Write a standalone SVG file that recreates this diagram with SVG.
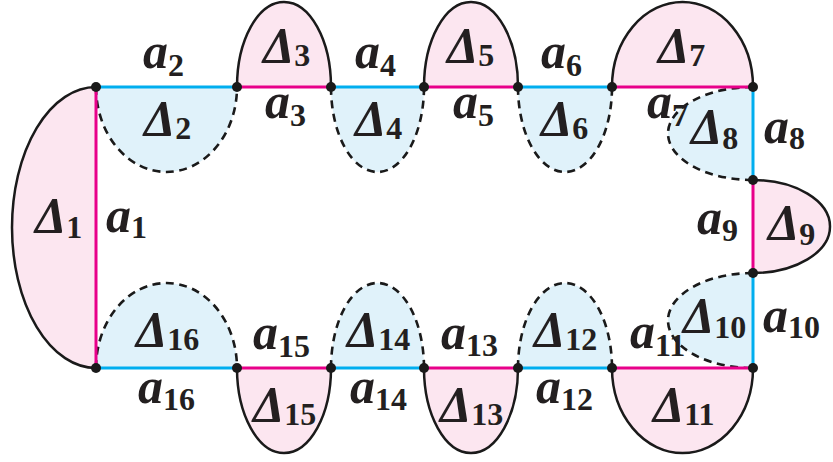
<svg xmlns="http://www.w3.org/2000/svg" width="833" height="462" viewBox="0 0 833 462">
<style>
.pk{fill:#FCE6F0;stroke:#1a1a1a;stroke-width:2.5}
.bl{fill:#E0F2FA;stroke:#1a1a1a;stroke-width:2.6;stroke-dasharray:8 5.5}
.m{stroke:#E8008A;stroke-width:3;fill:none}
.c{stroke:#00AEEF;stroke-width:3;fill:none}
.d{fill:#1a1a1a}
text{font-family:"Liberation Serif",serif;font-weight:bold;font-style:italic;font-size:50px;fill:#231f20}
.s{font-style:normal;font-size:32px}
</style>
<g id="regions">
<g id="D1"><path class="pk" d="M96,87 A84,140.5 0 0,0 96,368"/></g>
<g id="D2"><path class="bl" d="M96,87 A70.5,85 0 0,0 237,87"/></g>
<g id="D3"><path class="pk" d="M237,87 A47,85 0 0,1 331,87"/></g>
<g id="D4"><path class="bl" d="M331,87 A46.5,85 0 0,0 424,87"/></g>
<g id="D5"><path class="pk" d="M424,87 A47,85 0 0,1 518,87"/></g>
<g id="D6"><path class="bl" d="M518,87 A47,85 0 0,0 612,87"/></g>
<g id="D7"><path class="pk" d="M612,87 A70.5,85 0 0,1 753,87"/></g>
<g id="D8"><path class="bl" d="M753,87 A85,46.5 0 0,0 753,180"/></g>
<g id="D9"><path class="pk" d="M753,180 A77,46.5 0 0,1 753,273"/></g>
<g id="D10"><path class="bl" d="M753,273 A85,47.5 0 0,0 753,368"/></g>
<g id="D11"><path class="pk" d="M612,368 A70.5,85 0 0,0 753,368"/></g>
<g id="D12"><path class="bl" d="M518,368 A47,85 0 0,1 612,368"/></g>
<g id="D13"><path class="pk" d="M424,368 A47,85 0 0,0 518,368"/></g>
<g id="D14"><path class="bl" d="M331,368 A46.5,85 0 0,1 424,368"/></g>
<g id="D15"><path class="pk" d="M237,368 A47,85 0 0,0 331,368"/></g>
<g id="D16"><path class="bl" d="M96,368 A70.5,85 0 0,1 237,368"/></g>
</g>
<g id="edges">
<line class="m" x1="96" y1="87" x2="96" y2="368"/>
<line class="c" x1="96" y1="87" x2="237" y2="87"/>
<line class="m" x1="237" y1="87" x2="331" y2="87"/>
<line class="c" x1="331" y1="87" x2="424" y2="87"/>
<line class="m" x1="424" y1="87" x2="518" y2="87"/>
<line class="c" x1="518" y1="87" x2="612" y2="87"/>
<line class="m" x1="612" y1="87" x2="753" y2="87"/>
<line class="c" x1="753" y1="87" x2="753" y2="180"/>
<line class="m" x1="753" y1="180" x2="753" y2="273"/>
<line class="c" x1="753" y1="273" x2="753" y2="368"/>
<line class="m" x1="612" y1="368" x2="753" y2="368"/>
<line class="c" x1="518" y1="368" x2="612" y2="368"/>
<line class="m" x1="424" y1="368" x2="518" y2="368"/>
<line class="c" x1="331" y1="368" x2="424" y2="368"/>
<line class="m" x1="237" y1="368" x2="331" y2="368"/>
<line class="c" x1="96" y1="368" x2="237" y2="368"/>
</g>
<g id="vertices">
<circle class="d" cx="96" cy="87" r="5"/><circle class="d" cx="237" cy="87" r="5"/><circle class="d" cx="331" cy="87" r="5"/><circle class="d" cx="424" cy="87" r="5"/><circle class="d" cx="518" cy="87" r="5"/><circle class="d" cx="612" cy="87" r="5"/><circle class="d" cx="753" cy="87" r="5"/>
<circle class="d" cx="753" cy="180" r="5"/><circle class="d" cx="753" cy="273" r="5"/>
<circle class="d" cx="96" cy="368" r="5"/><circle class="d" cx="237" cy="368" r="5"/><circle class="d" cx="331" cy="368" r="5"/><circle class="d" cx="424" cy="368" r="5"/><circle class="d" cx="518" cy="368" r="5"/><circle class="d" cx="612" cy="368" r="5"/><circle class="d" cx="753" cy="368" r="5"/>
</g>
<g id="labels">
<text x="35" y="232">Δ<tspan class="s" dy="6">1</tspan></text>
<text x="106" y="232">a<tspan class="s" dy="6">1</tspan></text>
<text x="143" y="68">a<tspan class="s" dy="8">2</tspan></text>
<text x="144" y="135">Δ<tspan class="s" dy="4">2</tspan></text>
<text x="263" y="62">Δ<tspan class="s" dy="4">3</tspan></text>
<text x="265" y="118">a<tspan class="s" dy="8">3</tspan></text>
<text x="355" y="68">a<tspan class="s" dy="8">4</tspan></text>
<text x="355" y="135">Δ<tspan class="s" dy="4">4</tspan></text>
<text x="447" y="62">Δ<tspan class="s" dy="4">5</tspan></text>
<text x="453" y="118">a<tspan class="s" dy="8">5</tspan></text>
<text x="541" y="68">a<tspan class="s" dy="8">6</tspan></text>
<text x="541" y="135">Δ<tspan class="s" dy="4">6</tspan></text>
<text x="658" y="62">Δ<tspan class="s" dy="4">7</tspan></text>
<text x="647" y="118">a<tspan class="s" dy="8">7</tspan></text>
<text x="691" y="143">Δ<tspan class="s" dy="6">8</tspan></text>
<text x="764" y="143">a<tspan class="s" dy="6">8</tspan></text>
<text x="697" y="234">a<tspan class="s" dy="7">9</tspan></text>
<text x="768" y="239">Δ<tspan class="s" dy="6">9</tspan></text>
<text x="683" y="332">Δ<tspan class="s" dy="6">10</tspan></text>
<text x="763" y="332">a<tspan class="s" dy="6">10</tspan></text>
<text x="630" y="348">a<tspan class="s" dy="8">11</tspan></text>
<text x="653" y="421">Δ<tspan class="s" dy="4">11</tspan></text>
<text x="536" y="403">a<tspan class="s" dy="7">12</tspan></text>
<text x="534" y="346">Δ<tspan class="s" dy="4">12</tspan></text>
<text x="441" y="349">a<tspan class="s" dy="7">13</tspan></text>
<text x="440" y="421">Δ<tspan class="s" dy="4">13</tspan></text>
<text x="347" y="346">Δ<tspan class="s" dy="4">14</tspan></text>
<text x="350" y="403">a<tspan class="s" dy="7">14</tspan></text>
<text x="253" y="349">a<tspan class="s" dy="8">15</tspan></text>
<text x="253" y="421">Δ<tspan class="s" dy="4">15</tspan></text>
<text x="136" y="346">Δ<tspan class="s" dy="4">16</tspan></text>
<text x="138" y="403">a<tspan class="s" dy="7">16</tspan></text>
</g>
</svg>
